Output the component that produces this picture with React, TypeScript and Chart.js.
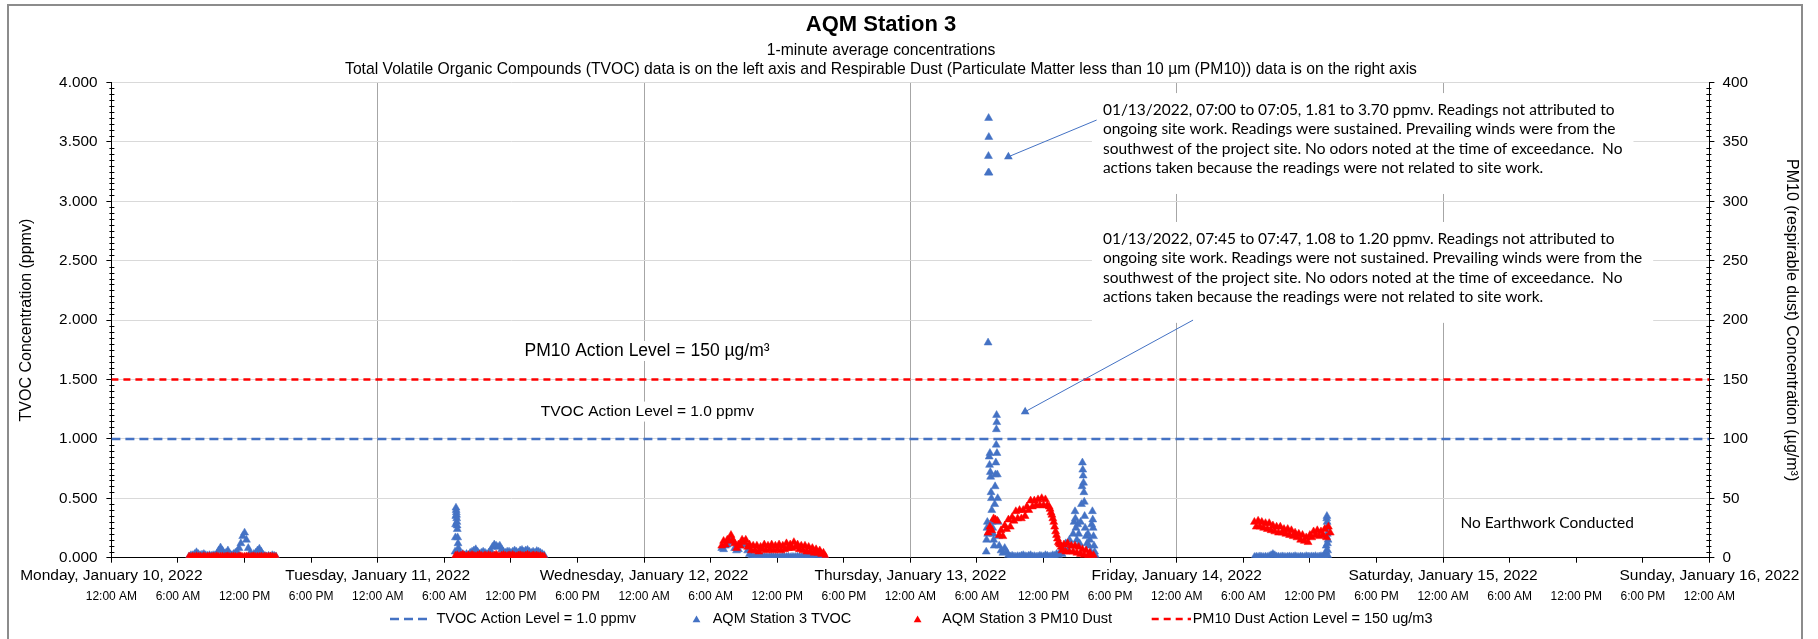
import React, { useEffect, useRef } from "react";
import { Chart, registerables } from "chart.js";

Chart.register(...registerables);

// ---------------- data ----------------
const DAY_LABELS = [
  "Monday, January 10, 2022",
  "Tuesday, January 11, 2022",
  "Wednesday, January 12, 2022",
  "Thursday, January 13, 2022",
  "Friday, January 14, 2022",
  "Saturday, January 15, 2022",
  "Sunday, January 16, 2022",
];
const TIME_TICK_LABELS = ["12:00 AM", "6:00 AM", "12:00 PM", "6:00 PM"];
const LEFT_TICKS = [0, 0.5, 1, 1.5, 2, 2.5, 3, 3.5, 4];
const RIGHT_TICKS = [0, 50, 100, 150, 200, 250, 300, 350, 400];

const TVOC_ACTION = 1.0;
const PM10_ACTION = 150;
const SAMPLE_STEP_MIN = 10;

// Monday (10-min samples from 07:00)
const tvocMon = [0.01, 0.02, 0.02, 0.03, 0.045, 0.03, 0.02, 0.025, 0.03, 0.02, 0.015, 0.02, 0.015, 0.02, 0.02, 0.03, 0.06, 0.085, 0.06, 0.03, 0.04, 0.06, 0.03, 0.02, 0.03, 0.04, 0.05, 0.08, 0.12, 0.18, 0.21, 0.15, 0.08, 0.04, 0.02, 0.03, 0.04, 0.06, 0.075, 0.05, 0.02, 0.015, 0.01, 0.015, 0.01, 0.02, 0.015, 0.01];
const pmMon = [0.8, 0.5, 1.0, 0.6, 1.2, 0.7, 0.9, 0.5, 1.1, 0.6, 0.8, 1.0, 0.5, 0.9, 0.7, 1.2, 0.6, 0.8, 1.0, 0.5, 0.9, 1.1, 0.6, 0.8, 1.0, 0.7, 0.5, 0.9, 1.2, 0.6, 0.8, 1.0, 0.7, 0.5, 0.9, 1.1, 0.6, 0.8, 0.7, 1.0, 0.5, 0.9, 0.6, 0.8, 1.0, 0.7, 0.5, 0.6];

// Tuesday
const tvocTueSpikeTimes = ["06:58", "07:00", "07:01", "07:02", "07:03", "07:04", "07:05", "07:06", "07:07", "07:08", "07:09", "07:10", "07:12", "07:14", "07:16", "07:18"];
const tvocTueSpike = [0.05, 0.17, 0.28, 0.35, 0.42, 0.40, 0.38, 0.36, 0.33, 0.30, 0.27, 0.24, 0.17, 0.12, 0.08, 0.05];
const tvocTue = [0.04, 0.02, 0.03, 0.02, 0.03, 0.02, 0.04, 0.05, 0.06, 0.07, 0.05, 0.03, 0.04, 0.05, 0.04, 0.03, 0.04, 0.06, 0.09, 0.11, 0.1, 0.09, 0.1, 0.07, 0.05, 0.04, 0.05, 0.05, 0.04, 0.05, 0.06, 0.05, 0.04, 0.06, 0.065, 0.05, 0.06, 0.065, 0.05, 0.04, 0.05, 0.04, 0.055, 0.05, 0.04, 0.03, 0.02];
const pmTue = [1.5, 2.0, 1.2, 1.8, 2.4, 1.5, 1.0, 1.9, 1.4, 2.2, 1.6, 1.1, 1.8, 2.3, 1.5, 1.2, 1.9, 1.4, 2.0, 1.6, 1.2, 1.8, 2.5, 1.4, 1.1, 1.7, 2.1, 1.5, 1.3, 1.9, 1.6, 2.2, 1.4, 1.1, 1.8, 2.0, 1.5, 1.3, 1.7, 2.3, 1.6, 1.2, 1.9, 1.4, 1.7, 1.2, 1.5, 1.0, 0.8];

// Wednesday
const tvocWed = [0.08, 0.07, 0.10, 0.11, 0.15, 0.17, 0.13, 0.08, 0.06, 0.07, 0.10, 0.12, 0.13, 0.11, 0.06, 0.03, 0.01, 0.005, 0.004, 0.006, 0.003, 0.005, 0.008, 0.004, 0.006, 0.003, 0.005, 0.007, 0.004, 0.006, 0.005, 0.003, 0.006, 0.008, 0.004, 0.005, 0.007, 0.003, 0.006, 0.004, 0.005, 0.008, 0.006, 0.004, 0.007, 0.005, 0.01, 0.02, 0.015, 0.01, 0.02, 0.03, 0.02, 0.01, 0.015, 0.008, 0.005];
const pmWed = [10, 14, 11, 15, 14, 19, 15, 12, 8, 11, 10, 15, 13, 15, 9, 11, 6, 10, 6, 10, 5, 9, 7, 11, 6, 10, 7, 11, 6, 10, 7, 11, 6, 10, 7, 12, 8, 11, 8, 13, 9, 11, 7, 10, 6, 10, 5, 9, 5, 8, 4, 7, 4, 6, 3, 4, 1];

// Thursday
const tvocThuAmTimes = ["06:50", "06:52", "06:54", "06:56", "06:58", "07:00", "07:01", "07:02", "07:03", "07:04", "07:05", "07:06", "07:08", "07:10", "07:12", "07:14", "07:16", "07:18", "07:20", "07:22", "07:25", "07:28", "07:30", "07:33", "07:36", "07:38", "07:40", "07:42", "07:44", "07:45", "07:46", "07:47", "07:48", "07:50", "07:52", "07:55", "07:58"];
const tvocThuAm = [0.05, 0.15, 0.25, 0.3, 0.2, 1.81, 3.24, 3.38, 3.70, 3.54, 3.24, 0.85, 0.78, 0.88, 0.72, 0.68, 0.55, 0.50, 0.40, 0.30, 0.25, 0.20, 0.15, 0.10, 0.45, 0.60, 0.70, 0.80, 0.95, 1.08, 1.20, 1.14, 0.88, 0.70, 0.50, 0.30, 0.18];
const tvocThu = [0.1, 0.06, 0.04, 0.08, 0.05, 0.02, 0.01, 0.015, 0.01, 0.008, 0.012, 0.01, 0.015, 0.02, 0.012, 0.01, 0.015, 0.02, 0.01, 0.012, 0.008, 0.01, 0.015, 0.012, 0.01, 0.02, 0.015, 0.01, 0.012, 0.02, 0.015, 0.03];
const tvocThuPmTimes = ["13:20", "13:30", "13:40", "13:50", "14:00", "14:10", "14:20", "14:30", "14:40", "14:45", "14:50", "14:52", "14:55", "15:00", "15:05", "15:10", "15:15", "15:20", "15:25", "15:28", "15:30", "15:32", "15:34", "15:36", "15:38", "15:40", "15:42", "15:45", "15:50", "15:55", "16:00", "16:05", "16:10", "16:15", "16:20", "16:24", "16:26", "16:28", "16:30", "16:33", "16:36", "16:40"];
const tvocThuPm = [0.02, 0.05, 0.03, 0.08, 0.12, 0.06, 0.15, 0.10, 0.20, 0.30, 0.39, 0.33, 0.25, 0.15, 0.28, 0.20, 0.12, 0.30, 0.45, 0.60, 0.80, 0.74, 0.69, 0.63, 0.55, 0.47, 0.35, 0.25, 0.18, 0.12, 0.20, 0.10, 0.15, 0.05, 0.28, 0.39, 0.32, 0.25, 0.18, 0.10, 0.05, 0.02];
const pmThu = [21, 26, 23, 33, 32, 31, 19, 23, 18, 27, 24, 32, 26, 34, 31, 39, 33, 40, 33, 40, 35, 43, 40, 48, 43, 48, 44, 49, 44, 50, 44, 49, 44, 43, 38, 33, 26, 19, 13, 11, 6, 11, 5, 12, 5, 10, 5, 10, 4, 9, 3, 7, 2, 6, 1, 4, 1, 2];
const pmThuDropTimes = ["12:35", "12:45", "12:55", "13:05", "13:15", "13:25", "13:35"];
const pmThuDrop = [41, 36, 30, 22, 16, 12, 9];

// Friday
const tvocFri = [0.005, 0.008, 0.006, 0.01, 0.007, 0.005, 0.008, 0.006, 0.012, 0.02, 0.03, 0.02, 0.01, 0.008, 0.006, 0.01, 0.007, 0.005, 0.008, 0.01, 0.006, 0.008, 0.012, 0.007, 0.005, 0.01, 0.008, 0.006, 0.012, 0.009, 0.007, 0.01, 0.008, 0.012, 0.006, 0.009, 0.012, 0.008, 0.01, 0.02, 0.01];
const tvocFriSpikeTimes = ["13:26", "13:28", "13:29", "13:30", "13:31", "13:32", "13:33", "13:34", "13:35", "13:36", "13:38"];
const tvocFriSpike = [0.05, 0.1, 0.18, 0.25, 0.33, 0.35, 0.30, 0.20, 0.12, 0.06, 0.15];
const pmFri = [30, 26, 31, 26, 30, 25, 29, 24, 29, 23, 27, 22, 26, 21, 26, 21, 24, 20, 24, 19, 23, 18, 21, 17, 20, 15, 19, 14, 17, 13, 19, 17, 22, 19, 23, 18, 22, 19, 24, 17, 26, 21];

// texts
const TITLE = "AQM Station 3";
const SUBTITLE_1 = "1-minute average concentrations";
const SUBTITLE_2 = "Total Volatile Organic Compounds (TVOC) data is on the left axis and Respirable Dust (Particulate Matter less than 10 µm (PM10)) data is on the right axis";
const Y_TITLE = "TVOC Concentration (ppmv)";
const Y2_TITLE = "PM10 (respirable dust) Concentration (µg/m³)";
const LEGEND_LABELS = ["TVOC Action Level = 1.0 ppmv", "AQM Station 3 TVOC", "AQM Station 3 PM10 Dust", "PM10 Dust Action Level = 150 ug/m3"];
const PM10_LEVEL_LABEL = "PM10 Action Level = 150 µg/m³";
const TVOC_LEVEL_LABEL = "TVOC Action Level = 1.0 ppmv";
const NO_WORK_LABEL = "No Earthwork Conducted";
const NOTE_1 = [
  "01/13/2022, 07:00 to 07:05, 1.81 to 3.70 ppmv. Readings not attributed to",
  "ongoing site work. Readings were sustained. Prevailing winds were from the",
  "southwest of the project site. No odors noted at the time of exceedance.  No",
  "actions taken because the readings were not related to site work.",
];
const NOTE_2 = [
  "01/13/2022, 07:45 to 07:47, 1.08 to 1.20 ppmv. Readings not attributed to",
  "ongoing site work. Readings were not sustained. Prevailing winds were from the",
  "southwest of the project site. No odors noted at the time of exceedance.  No",
  "actions taken because the readings were not related to site work.",
];

// ---------------- helpers ----------------
function toHours(day: number, hhmm: string): number {
  const [h, m] = hhmm.split(":").map(Number);
  return day * 24 + h + m / 60;
}
function regular(day: number, start: string, values: number[]) {
  const t0 = toHours(day, start);
  return values.map((v, i) => ({ x: t0 + (i * SAMPLE_STEP_MIN) / 60, y: v }));
}
function irregular(day: number, times: string[], values: number[]) {
  return times.map((t, i) => ({ x: toHours(day, t), y: values[i] }));
}

const BLUE = "#4472C4";
const RED = "#FF0000";
const SANS = '"Liberation Sans", Arial, sans-serif';
const CALI = 'Lato, "Open Sans", sans-serif';

function txt(ctx: CanvasRenderingContext2D, s: string, x: number, y: number, font: string, align: CanvasTextAlign = "left", color = "#000") {
  ctx.font = font;
  ctx.fillStyle = color;
  ctx.textAlign = align;
  ctx.textBaseline = "middle";
  ctx.fillText(s, x, y);
}
function tri(ctx: CanvasRenderingContext2D, x: number, y: number, r: number, color: string) {
  ctx.beginPath();
  ctx.moveTo(x, y - r);
  ctx.lineTo(x + r * Math.sin((2 * Math.PI) / 3), y - r * Math.cos((2 * Math.PI) / 3));
  ctx.lineTo(x + r * Math.sin((4 * Math.PI) / 3), y - r * Math.cos((4 * Math.PI) / 3));
  ctx.closePath();
  ctx.fillStyle = color;
  ctx.fill();
}

// annotation anchors in data units (hours since Mon 00:00, ppmv)
const NOTE_1_POS = { x: 89.35, y: 3.768 };
const NOTE_2_POS = { x: 89.35, y: 2.683 };
const ARROW_1 = { from: { x: 88.78, y: 3.684 }, to: { x: 80.83, y: 3.375 } };
const ARROW_2 = { from: { x: 97.47, y: 2.0 }, to: { x: 82.34, y: 1.229 } };
const PM10_LABEL_POS = { x: 48.27, y: 1.74 };
const TVOC_LABEL_POS = { x: 48.3, y: 1.23 };
const NO_WORK_POS = { x: 129.38, y: 0.292 };

const overlay = {
  id: "overlay",
  beforeDraw(chart: any) {
    const ctx = chart.ctx;
    ctx.save();
    ctx.fillStyle = "#fff";
    ctx.fillRect(0, 0, chart.width, chart.height);
    ctx.restore();
  },
  afterDatasetsDraw(chart: any) {
    const ctx: CanvasRenderingContext2D = chart.ctx;
    const xs = chart.scales.x, ys = chart.scales.y;
    ctx.save();
    ctx.font = "15px " + CALI;
    const w0 = ctx.measureText(NOTE_1[0]).width;
    const noteSize = (15 * 512) / w0;
    const noteFont = noteSize.toFixed(2) + "px " + CALI;
    const lh = 19.3;
    const drawNote = (lines: string[], pos: { x: number; y: number }) => {
      const x = xs.getPixelForValue(pos.x), y = ys.getPixelForValue(pos.y);
      ctx.font = noteFont;
      const w = Math.max(...lines.map((l) => ctx.measureText(l).width));
      ctx.fillStyle = "#fff";
      ctx.fillRect(x - 11, y - 17, w + 22, lh * (lines.length - 1) + 43);
      lines.forEach((l, i) => txt(ctx, l, x, y + i * lh, noteFont));
    };
    drawNote(NOTE_1, NOTE_1_POS);
    drawNote(NOTE_2, NOTE_2_POS);
    for (const a of [ARROW_1, ARROW_2]) {
      const x1 = xs.getPixelForValue(a.from.x), y1 = ys.getPixelForValue(a.from.y);
      const x2 = xs.getPixelForValue(a.to.x), y2 = ys.getPixelForValue(a.to.y);
      ctx.strokeStyle = BLUE;
      ctx.lineWidth = 1;
      ctx.beginPath();
      ctx.moveTo(x1, y1);
      ctx.lineTo(x2, y2);
      ctx.stroke();
      tri(ctx, x2, y2, 5, BLUE);
    }
    const drawLabel = (s: string, p: { x: number; y: number }, font: string) => {
      const x = xs.getPixelForValue(p.x), y = ys.getPixelForValue(p.y);
      ctx.font = font;
      const w = ctx.measureText(s).width;
      ctx.fillStyle = "#fff";
      ctx.fillRect(x - w / 2 - 3, y - 10, w + 6, 20);
      txt(ctx, s, x, y, font, "center");
    };
    drawLabel(PM10_LEVEL_LABEL, PM10_LABEL_POS, "17.5px " + SANS);
    drawLabel(TVOC_LEVEL_LABEL, TVOC_LABEL_POS, "15.5px " + SANS);
    txt(ctx, NO_WORK_LABEL, xs.getPixelForValue(NO_WORK_POS.x), ys.getPixelForValue(NO_WORK_POS.y), noteFont, "center");
    ctx.restore();
  },
  afterDraw(chart: any) {
    const ctx: CanvasRenderingContext2D = chart.ctx;
    const { left, right, top, bottom } = chart.chartArea;
    const xs = chart.scales.x, ys = chart.scales.y, ys2 = chart.scales.y2;
    ctx.save();
    // outer border
    ctx.strokeStyle = "#8c8c8c";
    ctx.lineWidth = 2;
    ctx.strokeRect(8, 5, 1794, 660);
    // titles
    const cx = 881;
    txt(ctx, TITLE, cx, 24.5, "bold 22px " + SANS, "center");
    txt(ctx, SUBTITLE_1, cx, 51, "15.7px " + SANS, "center");
    txt(ctx, SUBTITLE_2, cx, 69.5, "15.7px " + SANS, "center");
    // axis titles
    ctx.save();
    ctx.translate(27, (top + bottom) / 2);
    ctx.rotate(-Math.PI / 2);
    txt(ctx, Y_TITLE, 0, 0, "16px " + SANS, "center");
    ctx.restore();
    ctx.save();
    ctx.translate(1791, (top + bottom) / 2);
    ctx.rotate(Math.PI / 2);
    txt(ctx, Y2_TITLE, 0, 0, "16px " + SANS, "center");
    ctx.restore();
    // y tick labels
    LEFT_TICKS.forEach((v) => txt(ctx, v.toFixed(3), left - 14, ys.getPixelForValue(v), "15.3px " + SANS, "right"));
    RIGHT_TICKS.forEach((v) => txt(ctx, String(v), right + 13, ys2.getPixelForValue(v), "15.3px " + SANS, "left"));
    // minor ticks
    ctx.strokeStyle = "#000";
    ctx.lineWidth = 1;
    ctx.beginPath();
    for (let i = 1; i < 80; i++) {
      if (i % 10 === 0) continue;
      const y = Math.round(ys.getPixelForValue(i * 0.05)) + 0.5;
      ctx.moveTo(left - 2, y);
      ctx.lineTo(left + 3, y);
      const y2 = Math.round(ys2.getPixelForValue(i * 5)) + 0.5;
      ctx.moveTo(right - 3, y2);
      ctx.lineTo(right + 2, y2);
    }
    ctx.stroke();
    // x labels
    for (let h = 0; h <= 144; h += 6) {
      const x = xs.getPixelForValue(h);
      txt(ctx, TIME_TICK_LABELS[(h / 6) % 4], x, 597, "12px " + SANS, "center");
      if (h % 24 === 0) txt(ctx, DAY_LABELS[h / 24], x, 576, "15.5px " + SANS, "center");
    }
    // legend
    const lf = "14.5px " + SANS;
    const ly = 619;
    const dash = (x0: number, x1: number, color: string, pattern: number[]) => {
      ctx.save();
      ctx.strokeStyle = color;
      ctx.lineWidth = 2.5;
      ctx.setLineDash(pattern);
      ctx.beginPath();
      ctx.moveTo(x0, ly);
      ctx.lineTo(x1, ly);
      ctx.stroke();
      ctx.restore();
    };
    dash(390, 432, BLUE, [9, 5]);
    txt(ctx, LEGEND_LABELS[0], 436.5, ly, lf);
    tri(ctx, 696.5, ly + 1, 4.5, BLUE);
    txt(ctx, LEGEND_LABELS[1], 712.7, ly, lf);
    tri(ctx, 917.6, ly + 1, 4.5, RED);
    txt(ctx, LEGEND_LABELS[2], 942, ly, lf);
    dash(1151.7, 1191, RED, [7, 5]);
    txt(ctx, LEGEND_LABELS[3], 1192.7, ly, lf);
    ctx.restore();
  },
};

export default function App() {
  const ref = useRef<HTMLCanvasElement | null>(null);
  useEffect(() => {
    if (!ref.current) return;
    const tvocPoints = [
      ...regular(0, "07:00", tvocMon),
      ...irregular(1, tvocTueSpikeTimes, tvocTueSpike),
      ...regular(1, "07:20", tvocTue),
      ...regular(2, "07:00", tvocWed),
      ...irregular(3, tvocThuAmTimes, tvocThuAm),
      ...regular(3, "08:00", tvocThu),
      ...irregular(3, tvocThuPmTimes, tvocThuPm),
      ...regular(4, "07:00", tvocFri),
      ...irregular(4, tvocFriSpikeTimes, tvocFriSpike),
    ];
    const pmPoints = [
      ...regular(0, "07:00", pmMon),
      ...regular(1, "07:00", pmTue),
      ...regular(2, "07:00", pmWed),
      ...regular(3, "07:00", pmThu),
      ...irregular(3, pmThuDropTimes, pmThuDrop),
      ...regular(4, "07:00", pmFri),
    ];
    const chart = new Chart(ref.current, {
      type: "scatter",
      data: {
        datasets: [
          { label: LEGEND_LABELS[0], type: "line", data: [{ x: 0, y: TVOC_ACTION }, { x: 144, y: TVOC_ACTION }], yAxisID: "y", borderColor: BLUE, borderDash: [9, 5], borderWidth: 2.5, pointRadius: 0, order: 0 } as any,
          { label: LEGEND_LABELS[1], data: tvocPoints, yAxisID: "y", pointStyle: "triangle", pointRadius: 4.6, backgroundColor: BLUE, borderColor: BLUE, borderWidth: 0.5, order: 2 },
          { label: LEGEND_LABELS[2], data: pmPoints, yAxisID: "y2", pointStyle: "triangle", pointRadius: 4.6, backgroundColor: RED, borderColor: RED, borderWidth: 0.5, order: 1 },
          { label: LEGEND_LABELS[3], type: "line", data: [{ x: 0, y: PM10_ACTION }, { x: 144, y: PM10_ACTION }], yAxisID: "y2", borderColor: RED, borderDash: [7, 5], borderWidth: 2.5, pointRadius: 0, order: 0 } as any,
        ],
      },
      options: {
        responsive: false,
        animation: false,
        devicePixelRatio: 1,
        layout: { padding: { left: 0, right: 0, top: 82.5, bottom: 0 } },
        plugins: { legend: { display: false }, tooltip: { enabled: false }, title: { display: false } },
        scales: {
          x: {
            type: "linear",
            position: "bottom",
            min: 0,
            max: 144,
            ticks: { stepSize: 6, display: false },
            grid: {
              color: (c: any) => (c.tick && c.tick.value % 24 === 0 && c.tick.value > 0 && c.tick.value < 144 ? "#a6a6a6" : "rgba(0,0,0,0)"),
              tickColor: "#000",
              tickLength: 5,
              drawTicks: true,
            },
            border: { color: "#000", width: 1 },
            afterFit: (s: any) => { s.height = 639 - 557.7; },
          },
          y: {
            position: "left",
            min: 0,
            max: 4,
            ticks: { stepSize: 0.5, display: false },
            grid: {
              color: (c: any) => (c.tick && c.tick.value === 0 ? "rgba(0,0,0,0)" : "#d9d9d9"),
              tickColor: "#000",
              tickLength: 5,
            },
            border: { color: "#000", width: 1 },
            afterFit: (s: any) => { s.width = 111.4; },
          },
          y2: {
            position: "right",
            min: 0,
            max: 400,
            ticks: { stepSize: 50, display: false },
            grid: { drawOnChartArea: false, tickColor: "#000", tickLength: 5 },
            border: { color: "#000", width: 1 },
            afterFit: (s: any) => { s.width = 1818 - 1709.4; },
          },
        },
      } as any,
      plugins: [overlay],
    });
    return () => chart.destroy();
  }, []);
  return (
    <div style={{ position: "fixed", left: 0, top: 0, width: 1818, height: 639, background: "#fff" }}>
      <canvas ref={ref} width={1818} height={639} style={{ width: 1818, height: 639, display: "block" }} />
    </div>
  );
}
